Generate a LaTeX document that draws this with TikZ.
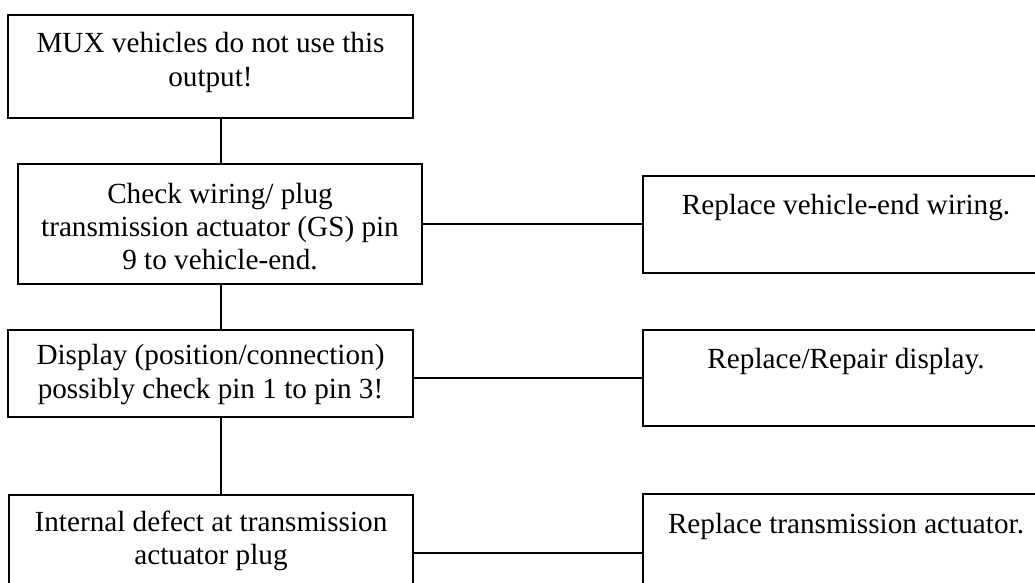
\documentclass[tikz,border=0pt]{standalone}
\usepackage{fontspec}
\setmainfont{Liberation Serif}
\usepackage{tikz}

\newcommand{\boxtext}[4][19pt]{\parbox[c][#3][t]{#2}{\centering\rule{0pt}{#1}#4}}

\begin{document}
\begin{tikzpicture}[x=0.5pt, y=-0.5pt,
  stepbox/.style={draw, black, line width=1pt, inner sep=0pt, outer sep=0pt,
    anchor=north west, font=\fontsize{14.6}{16.6}\selectfont},
  wire/.style={black, line width=1pt}]
\useasboundingbox (0,0) rectangle (1035,583);
\clip (0,0) rectangle (1035,583);

\node [stepbox] (mux) at (8,15) {\boxtext{202.5pt}{51.5pt}{MUX vehicles do not use this\\output!}};
\node [stepbox] (wiring) at (18,164) {\boxtext[19.5pt]{202pt}{60pt}{Check wiring/ plug\\transmission actuator (GS) pin\\9 to vehicle-end.}};
\node [stepbox] (display) at (8,330) {\boxtext[17.5pt]{202.5pt}{43.5pt}{Display (position/connection)\\possibly check pin 1 to pin 3!}};
\node [stepbox] (internal) at (9,495) {\boxtext[18pt]{202pt}{58pt}{Internal defect at transmission\\actuator plug}};

\node [stepbox] (vehwiring) at (643,176) {\boxtext[19.5pt]{203pt}{48.5pt}{Replace vehicle-end wiring.}};
\node [stepbox] (repdisplay) at (643,330) {\boxtext{203pt}{48pt}{Replace/Repair display.}};
\node [stepbox] (repactuator) at (643,494) {\boxtext[19.5pt]{203pt}{59pt}{Replace transmission actuator.}};

\coordinate (spine) at (221,0);
\draw [wire] (mux.south -| spine) -- (wiring.north -| spine);
\draw [wire] (wiring.south -| spine) -- (display.north -| spine);
\draw [wire] (display.south -| spine) -- (internal.north -| spine);

\draw [wire] (wiring.east) -- (wiring.east -| vehwiring.west);
\draw [wire] (display.east |- repdisplay.west) -- (repdisplay.west);
\draw [wire] (internal.east) -- (internal.east -| repactuator.west);
\end{tikzpicture}
\end{document}
